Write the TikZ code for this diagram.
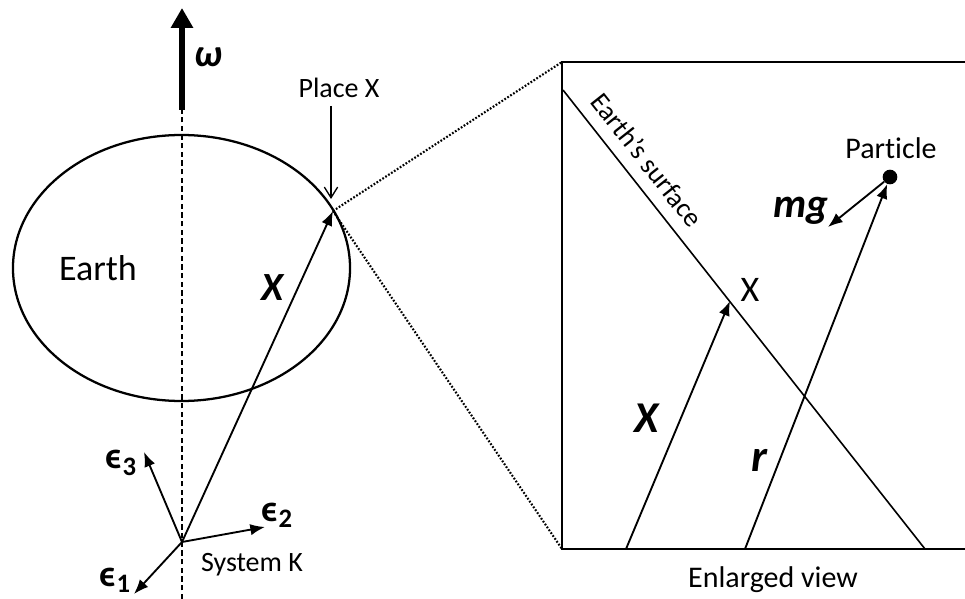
\documentclass[tikz,border=0pt]{standalone}
\usepackage{fontspec}
\setmainfont{Carlito}[Ligatures=NoCommon]
\usetikzlibrary{arrows.meta}
\begin{document}
\begin{tikzpicture}[x=0.75pt,y=-0.75pt,
  vec/.style={line width=1.4pt,-{Latex[length=11pt,width=8.5pt]}},
  lbl/.style={font=\fontsize{21}{24}\selectfont, inner sep=0pt},
  bv/.style={font=\bfseries\itshape\fontsize{30}{32}\selectfont, inner sep=0pt},
  eps/.style={font=\bfseries\fontsize{28}{30}\selectfont, inner sep=0pt},
  dotline/.style={line width=1.6pt, dash pattern=on 1.3pt off 1.3pt}]
\useasboundingbox (0,0) rectangle (965,599);
% left part
\coordinate (O) at (182,542);
\coordinate (P) at (333,211);
\coordinate (e1) at (134,594);
\coordinate (e2) at (265,527);
\coordinate (e3) at (144,452);
\coordinate (axb) at (182,599);
\coordinate (axt) at (182,110);
\coordinate (wt) at (182,8);
\draw[line width=1pt, dash pattern=on 4pt off 2.5pt] (axb) -- (axt);
\draw[line width=4.5pt,-{Triangle[length=15pt,width=16pt]}] (axt) -- (wt);
\node[bv,font=\bfseries\itshape\fontsize{29}{30}\selectfont] (wlab) at (208,57) {ω};
\draw[line width=1.7pt] (181.5,268) ellipse [x radius=126.4pt, y radius=99.75pt];
\node[font=\fontsize{27}{30}\selectfont, inner sep=0pt] (earth) at (98,268) {Earth};
\draw[vec] (O) -- (P);
\node[bv] (xlab) at (273,288) {X};
\draw[vec] (O) -- (e1);
\draw[vec] (O) -- (e2);
\draw[vec] (O) -- (e3);
\node[eps] (e3lab) at (121,463) {ϵ\raisebox{-0.35ex}{\fontsize{20}{22}\selectfont 3}};
\node[eps] (e2lab) at (277,515) {ϵ\raisebox{-0.35ex}{\fontsize{20}{22}\selectfont 2}};
\node[eps] (e1lab) at (115,580) {ϵ\raisebox{-0.35ex}{\fontsize{20}{22}\selectfont 1}};
\node[lbl] (sysk) at (252,565) {System K};
% Place X
\node[lbl] (placex) at (339,88) {Place X};
\coordinate (pxs) at (331,106);
\coordinate (pxe) at (331,199);
\draw[line width=1pt,-{Straight Barb[length=8pt,width=10pt]}] (pxs) -- (pxe);
% zoom lines
\coordinate (bTL) at (562,62);
\coordinate (bBL) at (562,549);
\coordinate (bTR) at (965,62);
\coordinate (bBR) at (965,549);
\draw[dotline] (P) -- (bTL);
\draw[dotline] (P) -- (bBL);
\draw[line width=1.5pt] (bTR) -- (bTL) -- (bBL) -- (bBR);
% enlarged view
\coordinate (s1) at (563,90);
\coordinate (s2) at (925,549);
\draw[line width=1.2pt] (s1) -- (s2);
\node[lbl, font=\fontsize{20.5}{22}\selectfont, rotate=-51.7] (surf) at (647,160) {Earth’s surface};
\coordinate (XP) at (730,301);
\coordinate (xs) at (626,549);
\draw[vec] (xs) -- (XP);
\node[font=\fontsize{27}{30}\selectfont, inner sep=0pt] (xplab) at (750,290) {X};
\node[circle, fill, inner sep=0pt, minimum size=11pt] (part) at (890,177) {};
\node[lbl, font=\fontsize{22.5}{24}\selectfont] (partlab) at (891,148) {Particle};
\coordinate (rs) at (745,549);
\draw[vec] (rs) -- (part);
\coordinate (mgt) at (828,227);
\draw[vec] (part) -- (mgt);
\node[bv, font=\bfseries\itshape\fontsize{31}{32}\selectfont] (mglab) at (801,211) {mg};
\node[bv, font=\bfseries\itshape\fontsize{33}{34}\selectfont] (x2lab) at (647,418) {X};
\node[bv, font=\bfseries\itshape\fontsize{34}{36}\selectfont] (rlab) at (759,460) {r};
\node[lbl, font=\fontsize{22.5}{24}\selectfont] (enl) at (773,580) {Enlarged view};
\end{tikzpicture}
\end{document}
